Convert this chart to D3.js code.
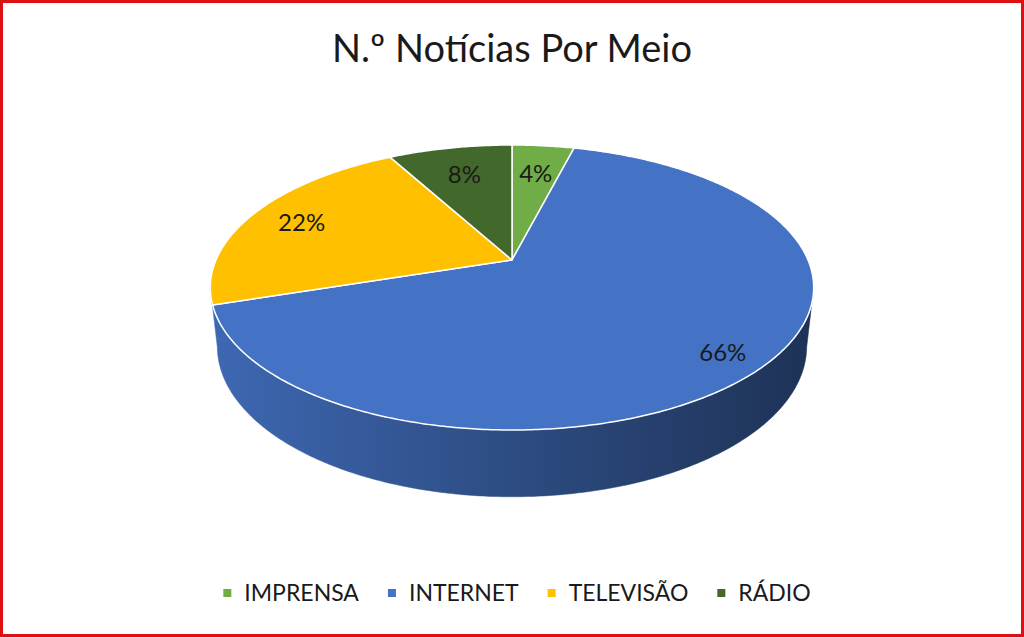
<!DOCTYPE html>
<html>
<head>
<meta charset="utf-8">
<script src="https://cdn.jsdelivr.net/npm/d3@7"></script>
<style>
  html, body { margin: 0; padding: 0; background: #fff; }
  svg { display: block; font-family: Lato, "Liberation Sans", sans-serif; }
</style>
</head>
<body>
<svg width="1024" height="637"></svg>
<script>
// chart data
const categories = ["IMPRENSA", "INTERNET", "TELEVISÃO", "RÁDIO"];
const shares = [4, 66, 22, 8];
const palette = ["#70AD47", "#4472C4", "#FFC000", "#43682B"];
const title = "N.º Notícias Por Meio";

const width = 1024, height = 637;
const svg = d3.select("svg");

// red frame around the picture
svg.append("rect")
    .attr("x", 1.5).attr("y", 1.5)
    .attr("width", width - 3).attr("height", height - 3)
    .attr("fill", "#fff")
    .attr("stroke", "#DD1111")
    .attr("stroke-width", 3);

svg.append("text")
    .attr("x", 512).attr("y", 62)
    .attr("text-anchor", "middle")
    .attr("font-size", 38)
    .attr("fill", "#1a1a1a")
    .text(title);

// simple perspective projection of a tilted disc
const cx = 512, cy = 260, k = 296;
const sinA = 0.4635, cosA = Math.sqrt(1 - sinA * sinA);
const dist = 4.59, depth = 0.226;

function project(theta, r, y) {
    const X = r * Math.sin(theta), Z = r * Math.cos(theta);
    const yv = y * cosA + Z * sinA;
    const zv = -y * sinA + Z * cosA;
    const s = dist / (dist + zv);
    return [cx + k * X * s, cy - k * yv * s];
}

const color = d3.scaleOrdinal().domain(categories).range(palette);
const pie = d3.pie().sort(null).value(d => d.value);
const arcs = pie(categories.map((c, i) => ({ name: c, value: shares[i] })));
const total = d3.sum(shares);

// outline silhouette of the rim (left-most / right-most angles)
const samples = d3.range(0, 2 * Math.PI, 0.002);
const thR = samples[d3.maxIndex(samples, t => project(t, 1, 0)[0])];
const thL = samples[d3.minIndex(samples, t => project(t, 1, 0)[0])];

function arcPoints(a0, a1, r, y) {
    const n = Math.max(2, Math.ceil((a1 - a0) / 0.01));
    return d3.range(n + 1).map(i => project(a0 + (a1 - a0) * i / n, r, y));
}

const line = d3.line().curve(d3.curveLinearClosed);
const defs = svg.append("defs");

// side walls, shaded light to dark from left to right
const sideG = svg.append("g");
arcs.forEach((d, i) => {
    const a0 = Math.max(d.startAngle, thR), a1 = Math.min(d.endAngle, thL);
    if (a1 - a0 < 0.15) return; // too thin to see
    const base = d3.color(color(d.data.name));
    const grad = defs.append("linearGradient")
        .attr("id", "side" + i)
        .attr("gradientUnits", "userSpaceOnUse")
        .attr("x1", project(thL, 1, 0)[0]).attr("x2", project(thR, 1, 0)[0])
        .attr("y1", 0).attr("y2", 0);
    grad.append("stop").attr("offset", 0).attr("stop-color", base.darker(0.25));
    grad.append("stop").attr("offset", 0.5).attr("stop-color", base.darker(1.15));
    grad.append("stop").attr("offset", 1).attr("stop-color", base.darker(2.3));
    // stretch the wall over the whole front so no gap shows at the ends
    const top = arcPoints(Math.max(d.startAngle, thR), thL, 1, 0);
    const bottom = arcPoints(Math.max(d.startAngle, thR), thL, 1, -depth).reverse();
    sideG.append("path")
        .attr("d", line(top.concat(bottom)))
        .attr("fill", "url(#side" + i + ")")
        .attr("stroke", "url(#side" + i + ")")
        .attr("stroke-width", 0.5);
});

// top faces
svg.append("g").selectAll("path")
    .data(arcs)
    .join("path")
    .attr("d", d => line([project(0, 0, 0)].concat(arcPoints(d.startAngle, d.endAngle, 1, 0))))
    .attr("fill", d => color(d.data.name))
    .attr("stroke", "#fff")
    .attr("stroke-width", 1.5)
    .attr("stroke-linejoin", "round");

// data labels
svg.append("g").selectAll("text")
    .data(arcs)
    .join("text")
    .attr("transform", d => {
        const mid = (d.startAngle + d.endAngle) / 2;
        const f = 0.72 + 0.22 * d.value / total + (d.value > 15 && d.value < 50 ? 0.04 : 0);
        return "translate(" + project(mid, f, 0) + ")";
    })
    .attr("text-anchor", "middle")
    .attr("dominant-baseline", "central")
    .attr("font-size", 24)
    .attr("fill", "#1a1a1a")
    .text(d => d.value + "%");

// legend
const legend = svg.append("g").attr("font-size", 23);
const items = legend.selectAll("g")
    .data(categories)
    .join("g");
items.append("rect")
    .attr("width", 8).attr("height", 8)
    .attr("y", -4).attr("x", -4)
    .attr("fill", d => color(d));
items.append("text")
    .attr("x", 17)
    .attr("dy", "0.36em")
    .attr("fill", "#1a1a1a")
    .text(d => d);
let pos = 0;
items.each(function() {
    const w = d3.select(this).select("text").node().getComputedTextLength();
    d3.select(this).attr("data-x", pos);
    pos += 17 + w + 33;
});
const legendW = pos - 33 + 4;
const lx0 = 517 - legendW / 2 + 4;
items.attr("transform", function() {
    return "translate(" + (lx0 + +d3.select(this).attr("data-x")) + ",593)";
});
</script>
</body>
</html>
